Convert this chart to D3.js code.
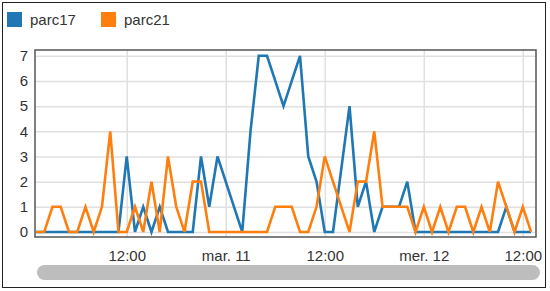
<!DOCTYPE html>
<meta charset="utf-8">
<head>
  <meta charset="utf-8">
  <title>parc17 / parc21</title>
  <style>
    body { margin: 0; background: #fff; font-family: "Liberation Sans", Arial, sans-serif; }
  </style>
</head>
<body>
<script src="https://cdn.jsdelivr.net/npm/d3@7"></script>
<script>

// hourly counts, first point Mon 10 Mar 2014 01:00
var startTime = Date.UTC(2014, 2, 10, 1, 0);
var seriesNames = ["parc17", "parc21"];
var parc17 = [0,0,0,0,0,0,0,0,0,0,0,3,0,1,0,1,0,0,0,0,
              3,1,3,2,1,0,4,7,7,6,5,6,7,3,2,0,0,2.5,5,1,
              2,0,1,1,1,2,0,0,0,0,0,0,0,0,0,0,0,1,0,0,0];
var parc21 = [0,0,1,1,0,0,1,0,1,4,0,0,1,0,2,0,3,1,0,2,
              2,0,0,0,0,0,0,0,0,1,1,1,0,0,1,3,2,1,0,2,
              2,4,1,1,1,1,0,1,0,1,0,1,1,0,1,0,2,1,0,1,0];
var colors = ["#1f77b4", "#ff7f0e"];
var yTicks = [0,1,2,3,4,5,6,7];
var xTickTimes = [Date.UTC(2014,2,10,12), Date.UTC(2014,2,11,0), Date.UTC(2014,2,11,12),
                  Date.UTC(2014,2,12,0), Date.UTC(2014,2,12,12)];
var xTickLabels = ["12:00", "mar. 11", "12:00", "mer. 12", "12:00"];

var W = 550, H = 291;
var plot = {left: 35, right: 536, top: 50, bottom: 237};
var font = "Liberation Sans, Arial, sans-serif";

var svg = d3.select("body").append("svg")
    .attr("width", W)
    .attr("height", H);

// outer frame
svg.append("rect")
    .attr("x", 2.5).attr("y", 2.5)
    .attr("width", 543).attr("height", 285)
    .attr("fill", "#fff")
    .attr("stroke", "#222");

var x = d3.scaleUtc()
    .domain([new Date(Date.UTC(2014,2,10,0,53)), new Date(Date.UTC(2014,2,12,13,36))])
    .range([plot.left, plot.right]);

var y = d3.scaleLinear()
    .domain([-0.2, 7.23])
    .range([plot.bottom, plot.top]);

// grid
svg.append("g")
    .attr("transform", "translate(" + plot.left + ",0)")
    .call(d3.axisLeft(y).tickValues(yTicks).tickSize(-(plot.right - plot.left)).tickFormat(""))
    .call(function(g) {
      g.select(".domain").remove();
      g.selectAll("line").attr("stroke", "#e0e0e0").attr("stroke-width", 1.5);
    });

svg.append("g")
    .attr("transform", "translate(0," + plot.bottom + ")")
    .call(d3.axisBottom(x).tickValues(xTickTimes.map(function(t) { return new Date(t); }))
      .tickSize(-(plot.bottom - plot.top)).tickFormat(""))
    .call(function(g) {
      g.select(".domain").remove();
      g.selectAll("line").attr("stroke", "#e0e0e0").attr("stroke-width", 1.5);
    });

// lines
var allSeries = [parc17, parc21];
var line = d3.line()
    .x(function(d, i) { return x(new Date(startTime + i * 3600000)); })
    .y(function(d) { return y(d); });

svg.append("g").selectAll("path")
    .data(allSeries)
    .enter().append("path")
    .attr("d", line)
    .attr("fill", "none")
    .attr("stroke", function(d, i) { return colors[i]; })
    .attr("stroke-width", 2.6)
    .attr("stroke-linejoin", "miter");

// plot border
svg.append("rect")
    .attr("x", plot.left).attr("y", plot.top)
    .attr("width", plot.right - plot.left).attr("height", plot.bottom - plot.top)
    .attr("fill", "none")
    .attr("stroke", "#555")
    .attr("stroke-width", 1.5);

// y axis labels
svg.append("g")
    .attr("transform", "translate(" + plot.left + ",0)")
    .call(d3.axisLeft(y).tickValues(yTicks).tickSize(0).tickPadding(7))
    .call(function(g) { g.select(".domain").remove(); })
    .style("font-family", font)
    .style("font-size", "15px")
    .selectAll("text").attr("fill", "#333");

// x axis labels
svg.append("g")
    .attr("transform", "translate(0," + plot.bottom + ")")
    .call(d3.axisBottom(x).tickValues(xTickTimes.map(function(t) { return new Date(t); }))
      .tickSize(0).tickPadding(13)
      .tickFormat(function(d, i) { return xTickLabels[i]; }))
    .call(function(g) { g.select(".domain").remove(); })
    .style("font-family", font)
    .style("font-size", "15px")
    .selectAll("text").attr("fill", "#333");

// scrollbar
svg.append("rect")
    .attr("x", 37).attr("y", 265)
    .attr("width", 503).attr("height", 15)
    .attr("rx", 7.5)
    .attr("fill", "#bdbdbd");

// legend
var legend = svg.append("g").selectAll("g")
    .data(seriesNames)
    .enter().append("g")
    .attr("transform", function(d, i) { return "translate(" + (7 + i * 94) + ",12)"; });

legend.append("rect")
    .attr("width", 15).attr("height", 15)
    .attr("fill", function(d, i) { return colors[i]; });

legend.append("text")
    .attr("x", 23).attr("y", 13)
    .style("font-family", font)
    .style("font-size", "15px")
    .attr("fill", "#333")
    .text(function(d) { return d; });

</script>
</body>
